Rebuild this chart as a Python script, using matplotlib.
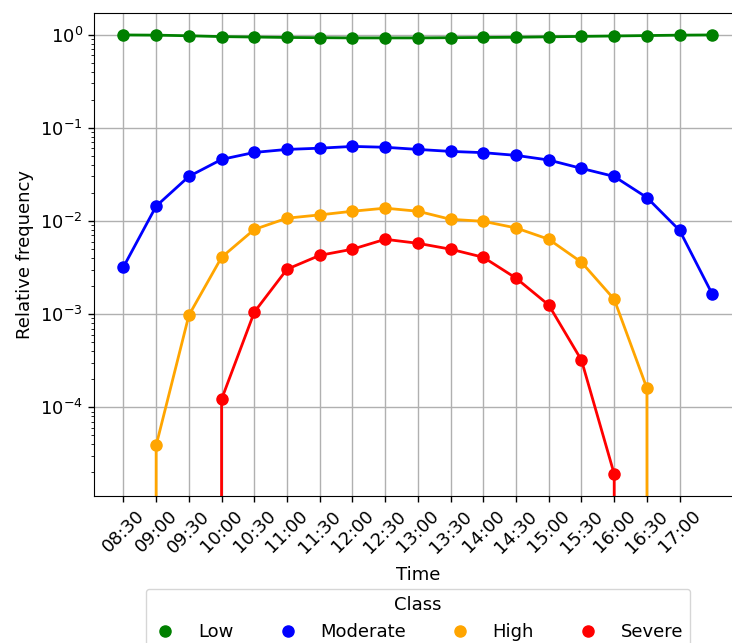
import numpy as np
import matplotlib.pyplot as plt
from matplotlib.lines import Line2D

times = ['08:30', '09:00', '09:30', '10:00', '10:30', '11:00', '11:30', '12:00',
         '12:30', '13:00', '13:30', '14:00', '14:30', '15:00', '15:30', '16:00',
         '16:30', '17:00', '17:30']
tick_labels = times[:-1]

low = [0.99, 0.985, 0.97, 0.95, 0.94, 0.93, 0.925, 0.92, 0.92, 0.92,
       0.925, 0.93, 0.935, 0.945, 0.955, 0.965, 0.975, 0.985, 0.99]
moderate = [3.2e-3, 0.0144, 0.030, 0.0457, 0.0543, 0.0585, 0.0603, 0.063, 0.0617, 0.0585,
            0.0557, 0.054, 0.0505, 0.045, 0.0366, 0.030, 0.0178, 0.0079, 1.63e-3]
high = [0, 3.9e-5, 9.7e-4, 4.07e-3, 8.1e-3, 0.0107, 0.0116, 0.0127, 0.0137, 0.0127,
        0.0104, 0.0099, 0.0084, 0.00635, 0.0036, 1.44e-3, 1.6e-4, 0, 0]
severe = [0, 0, 0, 1.22e-4, 1.05e-3, 3.03e-3, 4.27e-3, 4.97e-3, 6.35e-3, 5.75e-3,
          4.97e-3, 4.07e-3, 2.43e-3, 1.25e-3, 3.2e-4, 1.92e-5, 0, 0, 0]

classes = ['Low', 'Moderate', 'High', 'Severe']
colors = ['green', 'blue', 'orange', 'red']
series = [low, moderate, high, severe]

plt.rcParams['font.size'] = 13

fig = plt.figure(figsize=(7.32, 6.43), dpi=100)
ax = fig.add_axes([0.1284, 0.2286, 0.885, 0.7512])

x = np.arange(len(times))
for vals, c in zip(series, colors):
    ax.plot(x, vals, '-o', color=c, lw=2, ms=8)

ax.set_yscale('log')
ax.set_xticks(np.arange(len(tick_labels)))
ax.set_xticklabels(tick_labels, rotation=45)
ax.grid(True, color='#b0b0b0', lw=1.0)
ax.tick_params(which='major', length=4.5, width=1.0)
ax.tick_params(which='minor', length=2.5)
ax.set_xlabel('Time', labelpad=7)
ax.set_ylabel('Relative frequency')

# legend shows markers only
handles = [Line2D([], [], marker='o', ls='', color=c, ms=8) for c in colors]
ax.legend(handles, classes, title='Class', ncol=4, loc='upper center',
          bbox_to_anchor=(0.5, -0.192), columnspacing=2.3,
          handlelength=1.4, handletextpad=1.1, borderaxespad=0)

fig.savefig('out.png', dpi=100)
